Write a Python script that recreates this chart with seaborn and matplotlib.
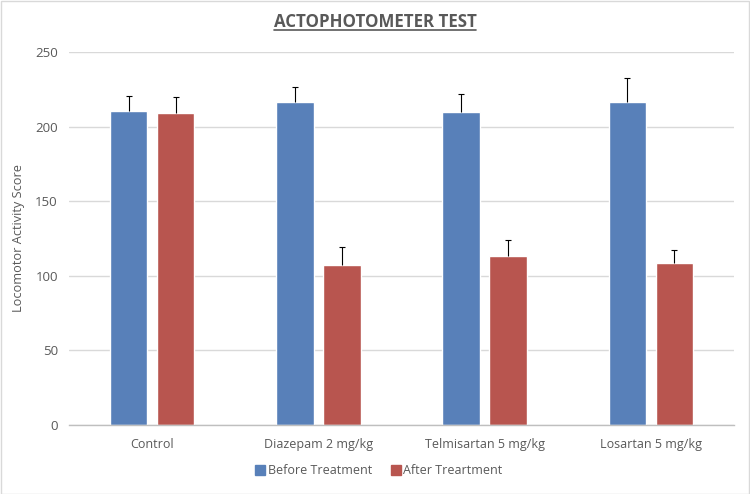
import matplotlib
matplotlib.use("Agg")
import matplotlib.pyplot as plt
import seaborn as sns
import pandas as pd
import numpy as np
from matplotlib.patches import Rectangle
from matplotlib.lines import Line2D

categories = ["Control", "Diazepam 2 mg/kg", "Telmisartan 5 mg/kg", "Losartan 5 mg/kg"]
series = ["Before Treatment", "After Treartment"]
before_vals = [210.5, 216.6, 209.7, 216.6]
after_vals = [209.0, 107.3, 113.3, 108.2]
before_err = [10.0, 10.3, 12.0, 16.0]
after_err = [10.7, 12.0, 10.6, 9.3]
yticks = [0, 50, 100, 150, 200, 250]

colors = ["#5880B9", "#B8554F"]
text_color = "#595959"

sns.set_theme(style="white")
plt.rcParams['font.family'] = ['Open Sans', 'DejaVu Sans']

df = pd.DataFrame({
    "cat": categories * 2,
    "series": [series[0]] * 4 + [series[1]] * 4,
    "val": before_vals + after_vals,
})

fig = plt.figure(figsize=(7.5, 4.94), dpi=100)
ax = fig.add_axes([69 / 750, 1 - 424.6 / 494, (734 - 69) / 750, (424.6 - 52.3) / 494])

sns.barplot(data=df, x="cat", y="val", hue="series", order=categories, hue_order=series,
            palette=colors, width=0.566, gap=0.2, errorbar=None, ax=ax, legend=False,
            saturation=1)

# error bars (upper only)
errs = {series[0]: before_err, series[1]: after_err}
vals = {series[0]: before_vals, series[1]: after_vals}
bar_containers = list(ax.containers)[:2]
for ci, container in enumerate(bar_containers):
    s = series[ci]
    xs = [p.get_x() + p.get_width() / 2 for p in container.patches]
    eb = ax.errorbar(xs, vals[s], yerr=[np.zeros(len(xs)), errs[s]], fmt="none",
                     ecolor="black", elinewidth=0.8, capsize=2.5, capthick=0.8, zorder=5)
    caps = eb[1]
    if len(caps) >= 2:
        caps[0].set_visible(False)

ax.set_ylim(0, 250)
ax.set_xlim(-0.5, 3.5)
ax.set_yticks(yticks)
ax.set_yticklabels([str(t) for t in yticks], color=text_color, fontsize=9.5)
ax.tick_params(axis="x", colors=text_color, labelsize=9, length=0, pad=10)
ax.tick_params(axis="y", length=0, pad=8)
ax.set_xlabel("")
ax.set_ylabel("Locomotor Activity Score", color=text_color, fontsize=9.2, labelpad=7)
ax.yaxis.grid(True, color="#D9D9D9", linewidth=1)
ax.set_axisbelow(True)
for side in ["top", "right", "left"]:
    ax.spines[side].set_visible(False)
ax.spines["bottom"].set_color("#BFBFBF")
ax.spines["bottom"].set_linewidth(1)

# legend
handles = [Line2D([0], [0], marker="s", linestyle="none", markersize=7.5,
                  markerfacecolor=c, markeredgecolor=c) for c in colors]
fig.legend(handles, series, loc="center", bbox_to_anchor=(378 / 750, 1 - 471 / 494),
           ncol=2, frameon=False, fontsize=9, labelcolor=text_color,
           handletextpad=0.1, columnspacing=1.4, handlelength=1.0)

# title with underline
title = fig.text(0.5, 1 - 22 / 494, "ACTOPHOTOMETER TEST", ha="center", va="center",
                 fontsize=12.2, fontweight="bold", color=text_color)
fig.canvas.draw()
bb = title.get_window_extent(renderer=fig.canvas.get_renderer())
inv = fig.transFigure.inverted()
(x0, y0), (x1, y1) = inv.transform([[bb.x0, bb.y0], [bb.x1, bb.y1]])
fig.add_artist(Line2D([x0, x1], [y0 + 0.002, y0 + 0.002], transform=fig.transFigure,
                      color=text_color, linewidth=1.2))

# chart border
fig.add_artist(Rectangle((0.001, 0.001), 0.998, 0.997, transform=fig.transFigure,
                         fill=False, edgecolor="#D9D9D9", linewidth=1))

fig.savefig("out.png", dpi=100)
